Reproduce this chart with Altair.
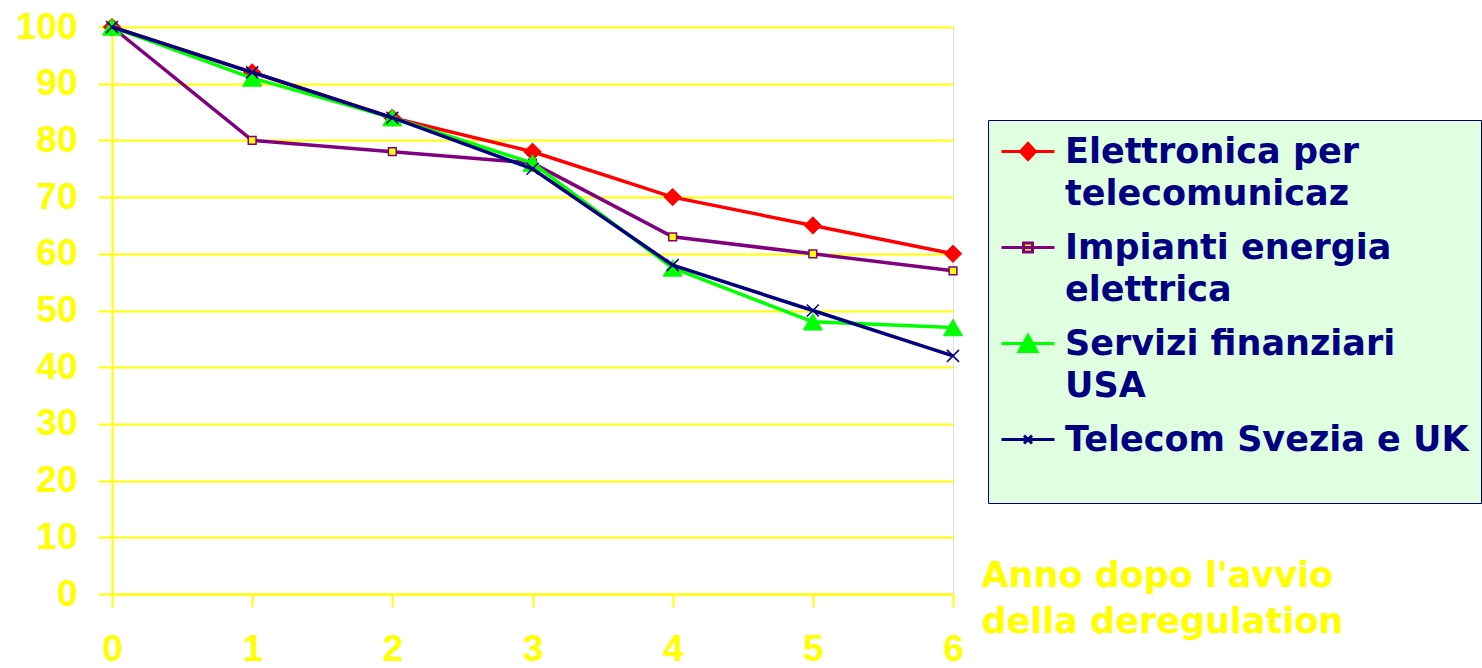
import altair as alt
import pandas as pd

# ---- data ----
anni = [0, 1, 2, 3, 4, 5, 6]
serie = [
    "Elettronica per\ntelecomunicaz",
    "Impianti energia\nelettrica",
    "Servizi finanziari\nUSA",
    "Telecom Svezia e UK",
]
elettronica = [100, 92, 84, 78, 70, 65, 60]
impianti = [100, 80, 78, 76, 63, 60, 57]
servizi = [100, 91, 84, 76, 57.5, 48, 47]
telecom = [100, 92, 84, 75, 58, 50, 42]
y_ticks = [0, 10, 20, 30, 40, 50, 60, 70, 80, 90, 100]
x_title = ["Anno dopo l'avvio", "della deregulation"]

valori = [elettronica, impianti, servizi, telecom]
rows = []
for s, vals in zip(serie, valori):
    for a, v in zip(anni, vals):
        rows.append({"anno": a, "valore": v, "serie": s})
df = pd.DataFrame(rows)

# ---- styles ----
YEL = "#ffff00"
NAVY = "#000080"
line_col = ["#ff0000", "#800080", "#00ff00", NAVY]
pt_fill = ["#ff0000", YEL, "#00ff00", "transparent"]
pt_shape = ["diamond", "square", "triangle-up", "M-1,-1L1,1M-1,1L1,-1"]
pt_size = [300, 60, 360, 144]
pt_sw = [1, 1.5, 1, 1.5]
# legend symbols: line segment + marker (unit = 18 px)
leg_paths = [
    "M-1,0L1.944,0M0.472,-0.444L0.889,0L0.472,0.444L0.055,0Z",
    "M-1,0L1.944,0M0.222,-0.25L0.722,-0.25L0.722,0.25L0.222,0.25Z",
    "M-1,0L1.944,0M0.472,-0.444L0.972,0.444L-0.028,0.444Z",
    "M-1,0L1.944,0M0.25,-0.22L0.694,0.22M0.25,0.22L0.694,-0.22",
]

x_enc = alt.X(
    "anno:Q",
    scale=alt.Scale(domain=[0, 6], nice=False, zero=False),
    axis=alt.Axis(
        values=anni, format="d", grid=False, domainColor=YEL, domainWidth=2,
        tickColor=YEL, tickWidth=2, tickSize=13, labelFlush=False,
        labelColor=YEL, labelFont="Liberation Sans", labelFontWeight="bold",
        labelFontSize=37, labelPadding=24,
        title=x_title, titleColor=YEL, titleFont="DejaVu Sans", titleFontWeight="bold",
        titleFontSize=35, titleLineHeight=46, titleAlign="left", titleBaseline="alphabetic",
        titleX=869, titleY=-8, titleAngle=0,
    ),
)
y_enc = alt.Y(
    "valore:Q",
    scale=alt.Scale(domain=[0, 100], nice=False),
    axis=alt.Axis(
        values=y_ticks, grid=True, gridColor=YEL, gridWidth=2, domainColor=YEL, domainWidth=2,
        tickColor=YEL, tickWidth=2, tickSize=14, labelFlush=False,
        labelColor=YEL, labelFont="Liberation Sans", labelFontWeight="bold",
        labelFontSize=37, labelPadding=21, title=None,
    ),
)

layers = []
for i, s in enumerate(serie):
    sub = alt.Chart(df).transform_filter(alt.datum.serie == s)
    layers.append(sub.mark_line(color=line_col[i], strokeWidth=3.5).encode(x=x_enc, y=y_enc))
    layers.append(
        sub.mark_point(
            shape=pt_shape[i], size=pt_size[i], filled=False, fill=pt_fill[i],
            stroke=line_col[i], strokeWidth=pt_sw[i], opacity=1,
        ).encode(x=x_enc, y=y_enc)
    )

leg = alt.Legend(
    title=" ", titleOrient="bottom", titleFontSize=20, titlePadding=13,
    orient="none", legendX=876, legendY=93,
    fillColor="#e0ffe0", strokeColor=NAVY, padding=12,
    symbolSize=1296, symbolStrokeWidth=3, symbolOpacity=1,
    labelExpr="split(datum.label, '\\n')",
    labelFont="DejaVu Sans", labelFontWeight="bold", labelFontSize=35, labelColor=NAVY,
    labelOffset=26, labelLimit=600, rowPadding=16,
)
legend_layer = alt.Chart(df).mark_point(filled=False, strokeWidth=3, opacity=1).encode(
    shape=alt.Shape("serie:N", scale=alt.Scale(domain=serie, range=leg_paths), legend=leg),
    stroke=alt.Stroke("serie:N", scale=alt.Scale(domain=serie, range=line_col), legend=leg),
    fill=alt.Fill("serie:N", scale=alt.Scale(domain=serie, range=pt_fill), legend=leg),
).transform_filter("false")

chart = (
    alt.layer(*layers, legend_layer)
    .properties(
        width=841, height=567,
        autosize=alt.AutoSizeParams(type="none"),
        padding={"left": 112, "top": 27, "right": 529, "bottom": 74},
        background="white",
    )
    .configure_view(stroke=YEL, strokeWidth=2)
    .configure(style={"guide-label": {"lineHeight": 42}})
)

chart.save("out.html", embed_options={"renderer": "svg", "actions": False})
